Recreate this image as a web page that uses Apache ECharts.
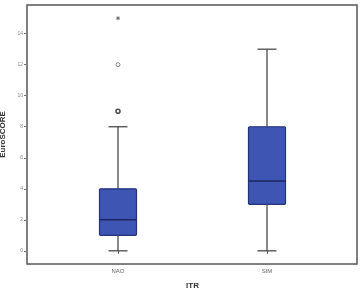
<!DOCTYPE html>
<html>
<head>
<meta charset="utf-8">
<script src="https://cdn.jsdelivr.net/npm/echarts@6/dist/echarts.min.js"></script>
<style>
  html, body { margin: 0; padding: 0; background: #fff; }
  #chart { width: 364px; height: 288px; }
</style>
</head>
<body>
<div id="chart"></div>
<script>
// 分组
let categories = ["NAO", "SIM"];
// 箱线: 最小, Q1, 中位数, Q3, 最大
let box_min = [0, 0];
let box_q1 = [1, 3];
let box_median = [2, 4.5];
let box_q3 = [4, 8];
let box_max = [8, 13];
// 离群点
let outlier_bold = [[0, 9]];
let outlier_circle = [[0, 12]];
let outlier_extreme = [[0, 15]];
let y_ticks = [0, 2, 4, 6, 8, 10, 12, 14];

let chart = echarts.init(document.getElementById("chart"));

let box_data = categories.map(function (c, i) {
	return [i, box_min[i], box_q1[i], box_median[i], box_q3[i], box_max[i]];
});

let font = "Liberation Sans";
let y_min = -0.85;
let y_max = 15.85;

let option = {
	animation: false,
	grid: [
		{
			// 外框
			left: 27,
			right: 7,
			top: 5,
			bottom: 24,
			outerBoundsMode: "none",
			show: true,
			borderColor: "#555",
			borderWidth: 1.5,
			backgroundColor: "transparent",
		},
		{
			// 箱线
			left: 43.5,
			right: 22.5,
			top: 5,
			bottom: 24,
			outerBoundsMode: "none",
		},
	],
	xAxis: [
		{
			gridIndex: 0,
			type: "value",
			show: false,
		},
		{
			gridIndex: 1,
			type: "category",
			data: categories,
			name: "ITR",
			nameLocation: "middle",
			nameGap: 18,
			nameTextStyle: { fontFamily: font, fontWeight: "bold", fontSize: 8, color: "#333" },
			axisLine: { show: false },
			axisTick: { show: true, alignWithLabel: true, length: 3, lineStyle: { color: "#555" } },
			axisLabel: { fontFamily: font, fontSize: 6, color: "#666", margin: 4 },
			splitLine: { show: false },
		},
	],
	yAxis: [
		{
			gridIndex: 0,
			type: "value",
			min: y_min,
			max: y_max,
			name: "EuroSCORE",
			nameLocation: "middle",
			nameGap: 10,
			nameTextStyle: { fontFamily: font, fontWeight: "bold", fontSize: 8, color: "#333" },
			axisLine: { show: false },
			axisTick: { show: true, length: 3, customValues: y_ticks, lineStyle: { color: "#777" } },
			axisLabel: { fontFamily: font, fontSize: 5, color: "#888", margin: 4, customValues: y_ticks },
			splitLine: { show: false },
		},
		{
			gridIndex: 1,
			type: "value",
			min: y_min,
			max: y_max,
			show: false,
		},
	],
	series: [
		{
			type: "custom",
			xAxisIndex: 1,
			yAxisIndex: 1,
			data: box_data,
			encode: { x: 0, y: [1, 2, 3, 4, 5] },
			renderItem: function (params, api) {
				let idx = api.value(0);
				let p_min = api.coord([idx, api.value(1)]);
				let p_q1 = api.coord([idx, api.value(2)]);
				let p_med = api.coord([idx, api.value(3)]);
				let p_q3 = api.coord([idx, api.value(4)]);
				let p_max = api.coord([idx, api.value(5)]);
				let cx = p_min[0];
				let w = 37; // 箱宽
				let cw = 19; // 须线端宽
				let wl = { stroke: "#4a4a4a", lineWidth: 1.3 };
				return {
					type: "group",
					children: [
						{ type: "line", shape: { x1: cx, y1: p_min[1], x2: cx, y2: p_q1[1] }, style: wl },
						{ type: "line", shape: { x1: cx, y1: p_q3[1], x2: cx, y2: p_max[1] }, style: wl },
						{ type: "line", shape: { x1: cx - cw / 2, y1: p_min[1], x2: cx + cw / 2, y2: p_min[1] }, style: wl },
						{ type: "line", shape: { x1: cx - cw / 2, y1: p_max[1], x2: cx + cw / 2, y2: p_max[1] }, style: wl },
						{
							type: "rect",
							shape: { x: cx - w / 2, y: p_q3[1], width: w, height: p_q1[1] - p_q3[1], r: 1 },
							style: { fill: "#3e55b3", stroke: "#25337d", lineWidth: 1.2 },
						},
						{
							type: "line",
							shape: { x1: cx - w / 2, y1: p_med[1], x2: cx + w / 2, y2: p_med[1] },
							style: { stroke: "#1c2660", lineWidth: 1.6 },
						},
					],
				};
			},
		},
		{
			type: "scatter",
			xAxisIndex: 1,
			yAxisIndex: 1,
			data: outlier_bold,
			symbol: "circle",
			symbolSize: 4,
			itemStyle: { color: "#fff", borderColor: "#222", borderWidth: 1.6 },
		},
		{
			type: "scatter",
			xAxisIndex: 1,
			yAxisIndex: 1,
			data: outlier_circle,
			symbol: "circle",
			symbolSize: 4,
			itemStyle: { color: "#fff", borderColor: "#666", borderWidth: 1 },
		},
		{
			type: "scatter",
			xAxisIndex: 1,
			yAxisIndex: 1,
			data: outlier_extreme,
			// 星号 (加号)
			symbol: "path://M4,0L6,0L6,4L10,4L10,6L6,6L6,10L4,10L4,6L0,6L0,4L4,4Z",
			symbolSize: 4,
			itemStyle: { color: "#555" },
			z: 3,
		},
		{
			type: "scatter",
			xAxisIndex: 1,
			yAxisIndex: 1,
			data: outlier_extreme,
			// 星号 (叉号)
			symbol: "path://M4,0L6,0L6,4L10,4L10,6L6,6L6,10L4,10L4,6L0,6L0,4L4,4Z",
			symbolSize: 4,
			symbolRotate: 45,
			itemStyle: { color: "#555" },
			z: 3,
		},
	],
};
chart.setOption(option);
</script>
</body>
</html>
